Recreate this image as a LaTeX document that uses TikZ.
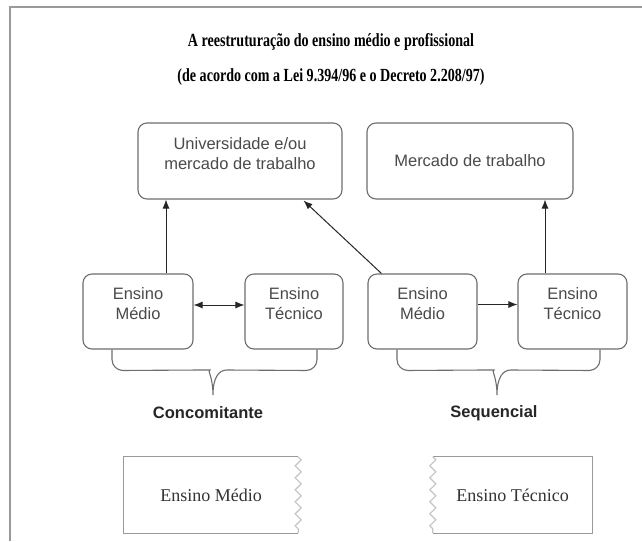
\documentclass[tikz,border=0pt]{standalone}
\usepackage{fontspec}
\setmainfont{Liberation Serif}
\newfontfamily\sansf{Liberation Sans}
\usetikzlibrary{arrows.meta,decorations.pathmorphing}
\definecolor{boxgray}{HTML}{6E6E6E}
\definecolor{txtgray}{HTML}{4A4A4A}
\definecolor{framegray}{HTML}{9A9A9A}
\definecolor{ziggray}{HTML}{C4C4C4}
\tikzset{
  rbox/.style={draw=boxgray, line width=1.1pt, rounded corners=9pt, align=center,
    font=\sansf\fontsize{16.5}{20}\selectfont, text=txtgray, inner sep=0pt},
  arr/.style={draw=black!85, line width=1pt, -{Latex[length=9pt,width=7pt]}},
  darr/.style={draw=black!85, line width=1pt, {Latex[length=9pt,width=7pt]}-{Latex[length=9pt,width=7pt]}},
  brace/.style={draw=boxgray, line width=1.1pt},
  bline/.style={draw=framegray, line width=1.2pt},
  zig/.style={draw=ziggray, line width=1.2pt, decorate, decoration={zigzag, segment length=12pt, amplitude=3pt}},
  plain/.style={font=\fontsize{18}{22}\selectfont, text=black!80, inner sep=0pt},
  lab/.style={font=\sansf\bfseries\fontsize{16.5}{20}\selectfont, text=black!85, inner sep=0pt},
  ttl/.style={font=\bfseries\fontsize{18.5}{22}\selectfont, inner sep=0pt, xscale=0.76}
}
\begin{document}
\begin{tikzpicture}[x=1pt,y=-1pt]
\useasboundingbox (0,0) rectangle (642,541);
\fill[white] (0,0) rectangle (642,541);
% frame
\draw[draw=framegray, line width=1.6pt] (10,541) -- (10,7) -- (642,7);
% titles
\node[ttl] (t1) at (331,42) {A reestruturação do ensino médio e profissional};
\node[ttl] (t2) at (331,77) {(de acordo com a Lei 9.394/96 e o Decreto 2.208/97)};
% top boxes
\node[rbox, minimum width=204pt, minimum height=76pt, text depth=14pt] (uni) at (240,161) {Universidade e/ou\\mercado de trabalho};
\node[rbox, minimum width=206pt, minimum height=76pt] (mer) at (470,161) {Mercado de trabalho};
% middle boxes
\tikzset{mid/.style={rbox, minimum height=75pt, text depth=15pt}}
\node[mid, minimum width=110pt] (em1) at (138,311.5) {Ensino\\Médio};
\node[mid, minimum width=98pt] (et1) at (294,311.5) {Ensino\\Técnico};
\node[mid, minimum width=109pt] (em2) at (422.5,311.5) {Ensino\\Médio};
\node[mid, minimum width=109pt] (et2) at (572.5,311.5) {Ensino\\Técnico};
% connectors
\draw[arr] ([xshift=28pt]em1.north) -- ([xshift=28pt]em1.north |- uni.south);
\draw[darr] ([yshift=6.5pt]em1.east) -- ([yshift=6.5pt]et1.west);
\draw[arr] ([yshift=7pt]em2.east) -- ([yshift=7pt]et2.west);
\draw[arr] ([xshift=-27.5pt]et2.north) -- ([xshift=-27.5pt]et2.north |- mer.south);
\draw[arr] ([xshift=14pt]em2.north west) -- ([xshift=-39pt,yshift=-1pt]uni.south east);
% braces
\coordinate (b1l) at ([xshift=-26pt]em1.south);
\coordinate (b1r) at ([xshift=23pt]et1.south);
\coordinate (b1t) at (213,395);
\draw[brace] (b1l) [rounded corners=11pt] -- ++(0,21) -- (199,370) [sharp corners]
  .. controls (207,370) and (213,377) .. (b1t)
  .. controls (213,377) and (219,370) .. (227,370) [rounded corners=11pt]
  -- ([yshift=-21pt]b1r) -- (b1r);
\coordinate (b2l) at ([xshift=-25.5pt]em2.south);
\coordinate (b2r) at ([xshift=27.5pt]et2.south);
\coordinate (b2t) at (497,395);
\draw[brace] (b2l) [rounded corners=11pt] -- ++(0,21) -- (483,370) [sharp corners]
  .. controls (491,370) and (497,377) .. (b2t)
  .. controls (497,377) and (503,370) .. (511,370) [rounded corners=11pt]
  -- ([yshift=-21pt]b2r) -- (b2r);
\node[lab] (conc) at (208,413) {Concomitante};
\node[lab] (seq) at (494,413) {Sequencial};
% bottom boxes
\node[plain, minimum width=174pt, minimum height=76pt] (bx1) at (211,495) {Ensino Médio};
\draw[bline] (bx1.north east) -- (bx1.north west) -- (bx1.south west) -- (bx1.south east);
\draw[zig] (bx1.north east) -- (bx1.south east);
\node[plain, minimum width=159pt, minimum height=76pt] (bx2) at (512.5,495) {Ensino Técnico};
\draw[bline] (bx2.north west) -- (bx2.north east) -- (bx2.south east) -- (bx2.south west);
\draw[zig] (bx2.north west) -- (bx2.south west);
\end{tikzpicture}
\end{document}
